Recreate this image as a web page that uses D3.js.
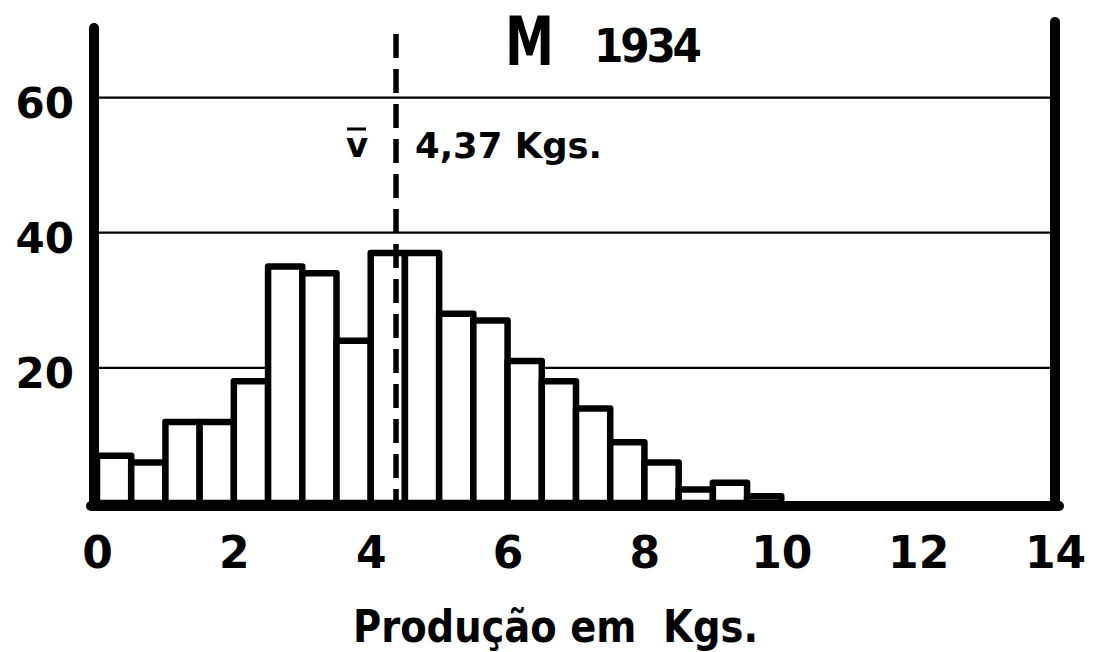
<!DOCTYPE html>
<html>
<head>
<meta charset="utf-8">
<script src="https://cdn.jsdelivr.net/npm/d3@7"></script>
<style>
    body { margin: 0; background: #fff; }
    svg { display: block; }
    text { fill: #000; }
</style>
</head>
<body>
<div id="chart"></div>
<script>
// bins of 0.5 kg, counts
const binStarts = [0, 0.5, 1, 1.5, 2, 2.5, 3, 3.5, 4, 4.5, 5, 5.5, 6, 6.5, 7, 7.5, 8, 8.5, 9, 9.5];
const counts = [7, 6, 12, 12, 18, 35, 34, 24, 37, 37, 28, 27, 21, 18, 14, 9, 6, 2, 3, 1];
const binWidth = 0.5;
const xTicks = [0, 2, 4, 6, 8, 10, 12, 14];
const yTicks = [20, 40, 60];
const meanValue = 4.37;
const meanLabel = "4,37 Kgs.";
const titleLetter = "M";
const titleYear = "1934";
const xTitle = "Produção em  Kgs.";

const width = 1110, height = 652;
const narrow = "'Liberation Sans Narrow', 'DejaVu Sans Condensed', sans-serif";
const wide = "'DejaVu Sans', sans-serif";

let x = d3.scaleLinear().domain([0, 14]).range([97, 1055]);
let y = d3.scaleLinear().domain([0, 70]).range([503, 30]);

let svg = d3.select("#chart")
    .append("svg")
    .attr("width", width)
    .attr("height", height);

// grid lines
svg.append("g")
    .selectAll("line")
    .data(yTicks)
    .join("line")
    .attr("x1", x(0))
    .attr("x2", x(14))
    .attr("y1", d => y(d))
    .attr("y2", d => y(d))
    .attr("stroke", "black")
    .attr("stroke-width", 2.2);

// bars
svg.append("g")
    .selectAll("rect")
    .data(counts)
    .join("rect")
    .attr("x", (d, i) => x(binStarts[i]))
    .attr("width", (d, i) => x(binStarts[i] + binWidth) - x(binStarts[i]))
    .attr("y", d => y(d))
    .attr("height", d => y(0) - y(d))
    .attr("fill", "white")
    .attr("stroke", "black")
    .attr("stroke-width", 6.5)
    .attr("stroke-linejoin", "round");

// mean line
svg.append("line")
    .attr("x1", x(meanValue))
    .attr("x2", x(meanValue))
    .attr("y1", 34)
    .attr("y2", y(0))
    .attr("stroke", "black")
    .attr("stroke-width", 5.5)
    .attr("stroke-dasharray", "24,11");

// frame: left, right, bottom
svg.append("line")
    .attr("x1", x(0) - 3).attr("x2", x(0) - 3)
    .attr("y1", 28).attr("y2", y(0) + 3)
    .attr("stroke", "black").attr("stroke-width", 10).attr("stroke-linecap", "round");
svg.append("line")
    .attr("x1", x(14)).attr("x2", x(14))
    .attr("y1", 22).attr("y2", y(0) + 3)
    .attr("stroke", "black").attr("stroke-width", 10).attr("stroke-linecap", "round");
svg.append("line")
    .attr("x1", x(0) - 6).attr("x2", x(14) + 4)
    .attr("y1", y(0) + 3).attr("y2", y(0) + 3)
    .attr("stroke", "black").attr("stroke-width", 10).attr("stroke-linecap", "round");

// axes labels via d3 axes, lines hidden
let xAxis = svg.append("g")
    .attr("transform", `translate(0, ${y(0)})`)
    .call(d3.axisBottom(x).tickValues(xTicks).tickSize(0).tickPadding(34));
xAxis.select(".domain").remove();
xAxis.selectAll("text")
    .attr("font-family", wide)
    .attr("font-weight", "bold")
    .attr("font-size", 44);

let yAxis = svg.append("g")
    .attr("transform", `translate(74, 6)`)
    .call(d3.axisLeft(y).tickValues(yTicks).tickSize(0).tickPadding(0));
yAxis.select(".domain").remove();
yAxis.selectAll("text")
    .attr("font-family", wide)
    .attr("font-weight", "bold")
    .attr("font-size", 42);

// title
svg.append("text")
    .attr("x", 505).attr("y", 65)
    .attr("font-family", narrow)
    .attr("font-weight", "bold")
    .attr("font-size", 68)
    .attr("textLength", 49)
    .attr("lengthAdjust", "spacingAndGlyphs")
    .text(titleLetter);
svg.append("text")
    .attr("x", 594).attr("y", 62)
    .attr("font-family", narrow)
    .attr("font-weight", "bold")
    .attr("font-size", 47)
    .attr("textLength", 108)
    .attr("lengthAdjust", "spacing")
    .text(titleYear);

// mean annotation
svg.append("text")
    .attr("x", 357).attr("y", 157)
    .attr("text-anchor", "middle")
    .attr("font-family", wide)
    .attr("font-weight", "bold")
    .attr("font-size", 34)
    .text("v");
svg.append("line")
    .attr("x1", 347).attr("x2", 366)
    .attr("y1", 129).attr("y2", 129)
    .attr("stroke", "black").attr("stroke-width", 3);
svg.append("text")
    .attr("x", 415).attr("y", 158)
    .attr("font-family", wide)
    .attr("font-weight", "bold")
    .attr("font-size", 35)
    .attr("textLength", 187)
    .attr("lengthAdjust", "spacingAndGlyphs")
    .text(meanLabel);

// x title
svg.append("text")
    .attr("x", 353).attr("y", 642)
    .attr("font-family", wide)
    .attr("font-weight", "bold")
    .attr("font-size", 45)
    .attr("textLength", 405)
    .attr("lengthAdjust", "spacingAndGlyphs")
    .style("white-space", "pre")
    .text(xTitle);
</script>
</body>
</html>
